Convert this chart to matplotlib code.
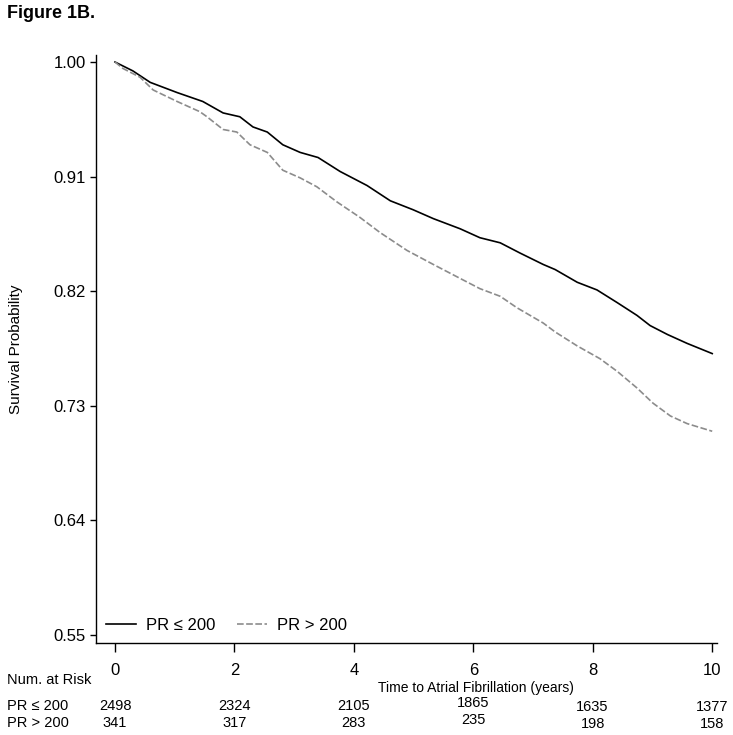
import numpy as np
import matplotlib.pyplot as plt

plt.rcParams['font.family'] = ['Liberation Sans', 'DejaVu Sans']

# Survival curves (time in years, survival probability)
t_low = [0.00, 0.30, 0.59, 1.04, 1.47, 1.81, 2.09, 2.31, 2.55, 2.81, 3.10, 3.40,
         3.77, 4.22, 4.61, 4.99, 5.33, 5.78, 6.11, 6.45, 6.78, 7.17, 7.37, 7.74,
         8.07, 8.41, 8.74, 8.96, 9.25, 9.58, 10.00]
s_low = [1.000, 0.993, 0.984, 0.976, 0.969, 0.960, 0.957, 0.949, 0.945, 0.935, 0.929, 0.925,
         0.914, 0.903, 0.891, 0.884, 0.877, 0.869, 0.862, 0.858, 0.850, 0.841, 0.837, 0.827,
         0.821, 0.811, 0.801, 0.793, 0.786, 0.779, 0.771]

t_high = [0.00, 0.13, 0.42, 0.64, 1.04, 1.42, 1.54, 1.81, 2.04, 2.26, 2.55, 2.81,
          3.10, 3.38, 3.72, 4.10, 4.44, 4.89, 5.33, 5.78, 6.11, 6.45, 6.73, 7.17,
          7.37, 7.74, 8.12, 8.41, 8.74, 9.01, 9.30, 9.58, 10.00]
s_high = [1.000, 0.995, 0.988, 0.978, 0.969, 0.961, 0.957, 0.947, 0.945, 0.935, 0.929, 0.915,
          0.909, 0.902, 0.890, 0.878, 0.866, 0.852, 0.841, 0.830, 0.822, 0.816, 0.807, 0.795,
          0.788, 0.777, 0.767, 0.757, 0.744, 0.732, 0.722, 0.716, 0.710]

# Numbers at risk table
risk_times = [0, 2, 4, 6, 8, 10]
risk_low = [2498, 2324, 2105, 1865, 1635, 1377]
risk_high = [341, 317, 283, 235, 198, 158]
group_labels = ['PR ≤ 200', 'PR > 200']

y_ticks = [0.55, 0.64, 0.73, 0.82, 0.91, 1.00]
x_ticks = [0, 2, 4, 6, 8, 10]

fig = plt.figure(figsize=(7.33, 7.35), dpi=100)
ax = fig.add_axes([96 / 733, 1 - 643 / 735, 621 / 733, 588 / 735])

ax.plot(t_low, s_low, color='black', lw=1.2, label=group_labels[0])
ax.plot(t_high, s_high, color='#8c8c8c', lw=1.2, ls=(0, (4, 1.5)), label=group_labels[1])

ax.set_xlim(-0.318, 10.08)
ax.set_ylim(0.5437, 1.0055)
ax.set_xticks(x_ticks)
ax.set_yticks(y_ticks)
ax.set_yticklabels(['%.2f' % v for v in y_ticks])
ax.tick_params(axis='y', length=4, width=1, pad=3.5, labelsize=12)
ax.tick_params(axis='x', length=6.5, width=1, pad=8, labelsize=12)
for side in ['top', 'right']:
    ax.spines[side].set_visible(False)
for side in ['left', 'bottom']:
    ax.spines[side].set_linewidth(1)

ax.set_ylabel('Survival Probability', fontsize=11)
ax.yaxis.set_label_coords(-(96 - 23) / 621, 0.5)

ax.legend(loc='lower left', bbox_to_anchor=(0.0, 0.0), ncol=2, frameon=False,
          fontsize=12, handlelength=1.8, handletextpad=0.6, columnspacing=1.3,
          borderaxespad=0.5, borderpad=0.1)

# Title and x label
fig.text(7 / 733, 1 - 14 / 735, 'Figure 1B.', fontsize=13, fontweight='bold', va='center')
fig.text(476 / 733, 1 - 688 / 735, 'Time to Atrial Fibrillation (years)', fontsize=10,
         ha='center', va='center')

# Number at risk table
fig.text(7 / 733, 1 - 680 / 735, 'Num. at Risk', fontsize=10.5, va='center')
fig.text(7 / 733, 1 - 706 / 735, group_labels[0], fontsize=10.5, va='center')
fig.text(7 / 733, 1 - 723 / 735, group_labels[1], fontsize=10.5, va='center')
shift = [0, 0, 0, 3, -1, -1]
for i, tt in enumerate(risk_times):
    xf = (115 + tt * 59.7) / 733
    fig.text(xf, 1 - (706 - shift[i]) / 735, str(risk_low[i]), fontsize=10.5, ha='center', va='center')
    fig.text(xf, 1 - (723 - shift[i]) / 735, str(risk_high[i]), fontsize=10.5, ha='center', va='center')

fig.savefig('out.png', dpi=100)
